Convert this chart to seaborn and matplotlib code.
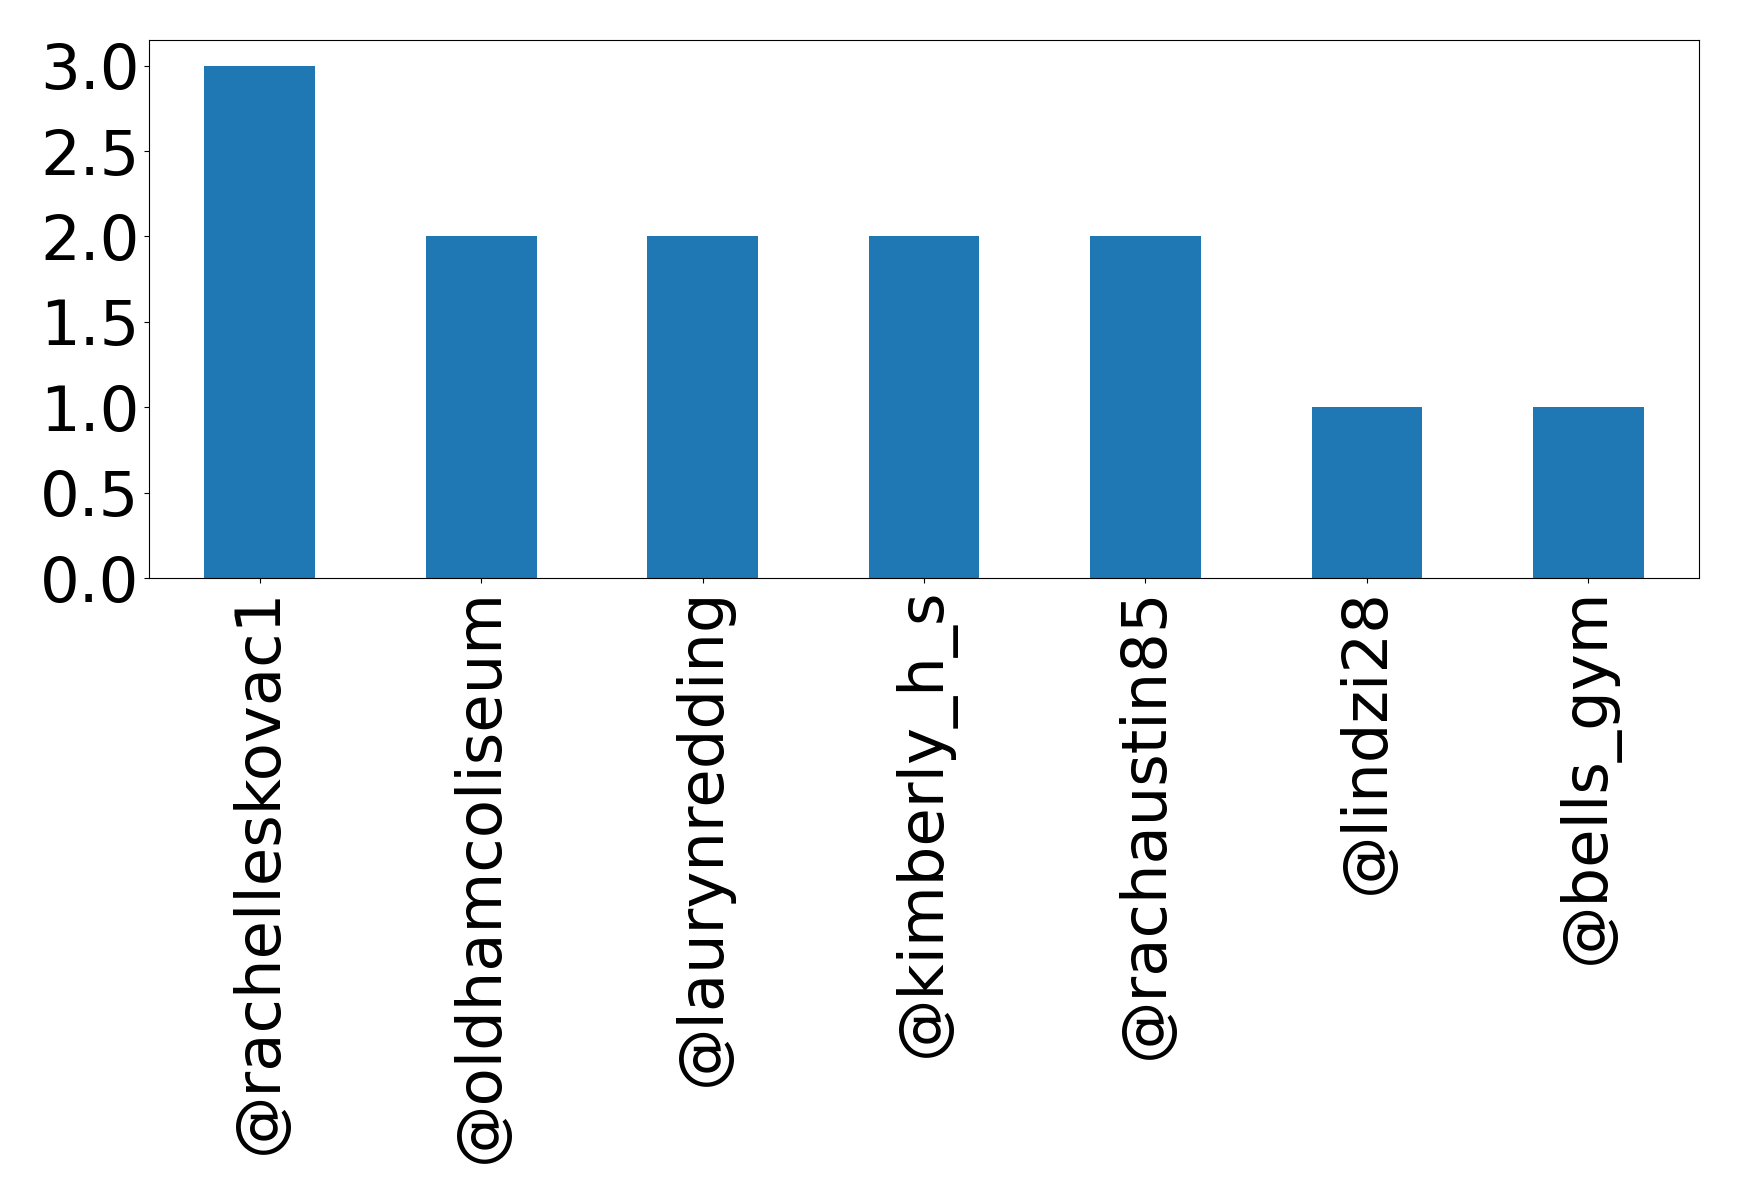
import numpy as np
import pandas as pd
import matplotlib
matplotlib.use("Agg")
import matplotlib.pyplot as plt
import seaborn as sbn

# kullanıcı adları ve sayıları
users = ["@rachelleskovac1", "@oldhamcoliseum", "@laurynredding", "@kimberly_h_s",
         "@rachaustin85", "@lindzi28", "@bells_gym"]
counts = [3, 2, 2, 2, 2, 1, 1]

dataFrame = pd.DataFrame({"user": users, "count": counts})

fig = plt.figure(figsize=(17.39, 12.03), dpi=100)
ax = fig.add_axes([0.0857, 0.5195, 0.8913, 0.4472])

sbn.barplot(x="user", y="count", data=dataFrame, color="#1f77b4", saturation=1,
            width=0.5, ax=ax)
ax.set_xlim(-0.5, 6.5)
ax.set_ylim(0, 3.15)
ax.set_yticks(np.arange(0, 3.01, 0.5))
ax.set_xlabel("")
ax.set_ylabel("")
ax.tick_params(axis="both", labelsize=45)
plt.setp(ax.get_xticklabels(), rotation=90)

fig.savefig("out.png", dpi=100)
